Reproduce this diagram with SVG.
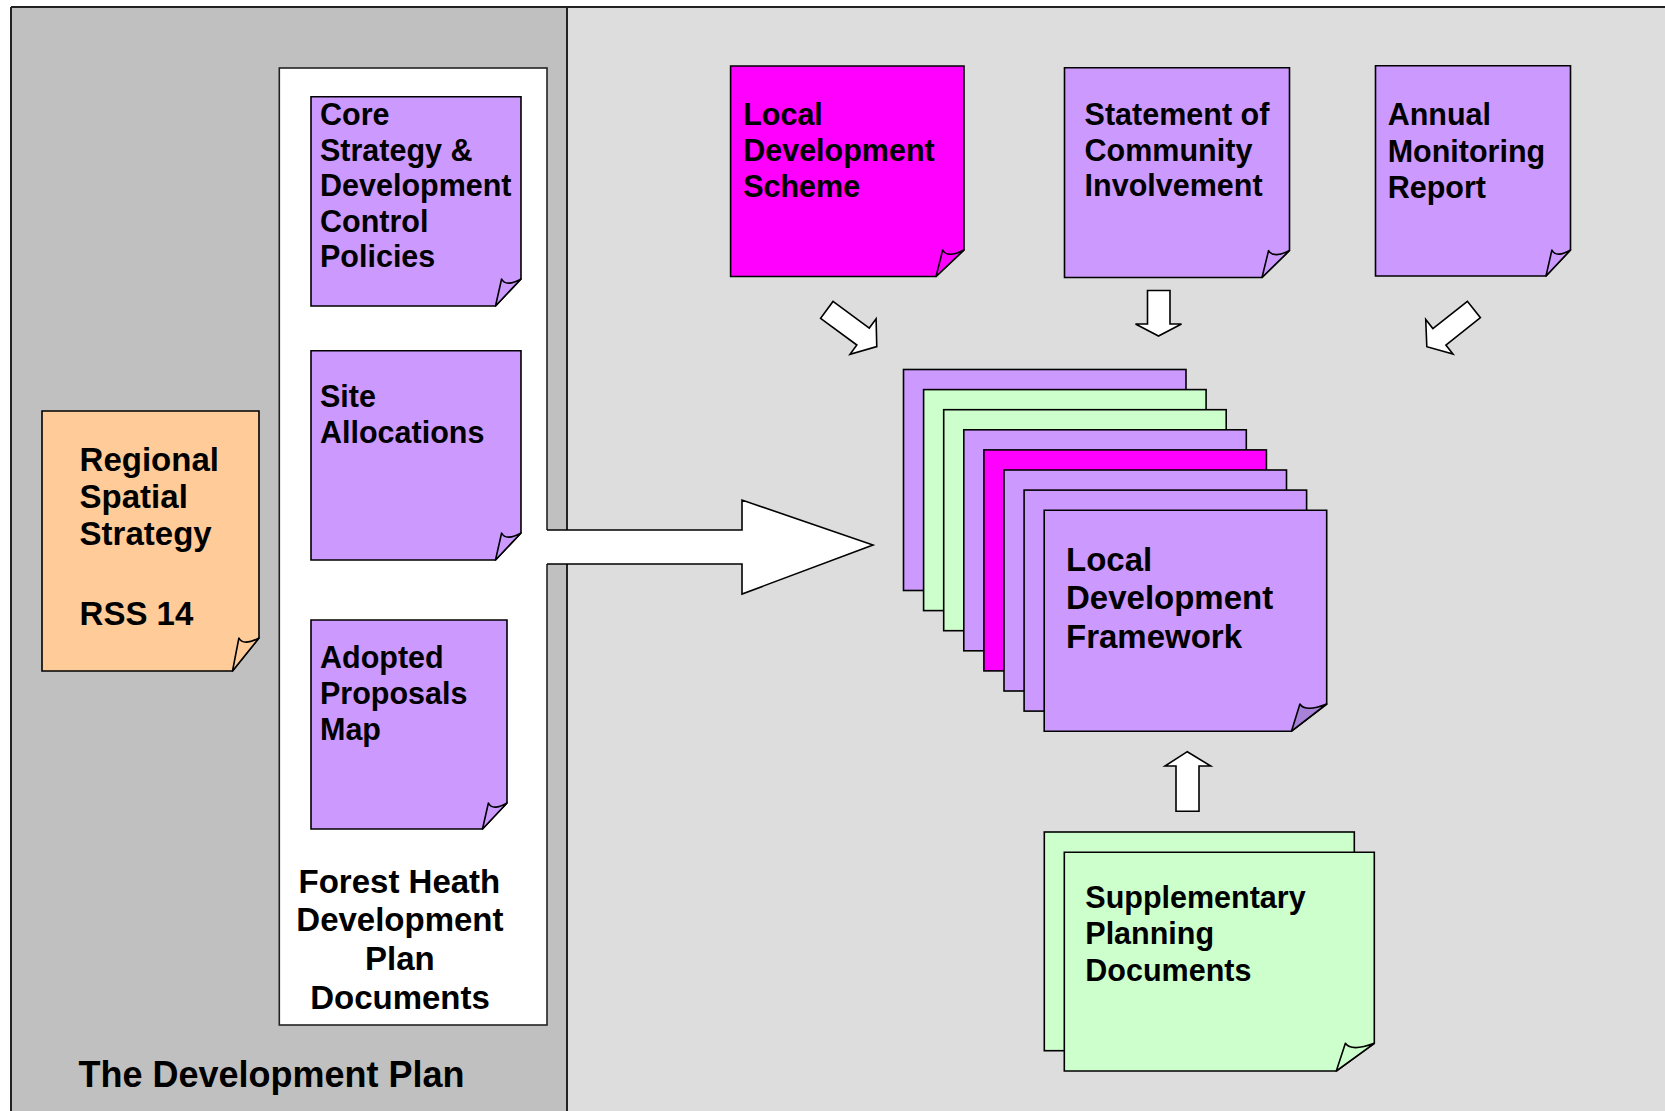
<svg xmlns="http://www.w3.org/2000/svg" width="1665" height="1111" viewBox="0 0 1665 1111">
  <style>
    .frame { stroke: #222; stroke-width: 2; fill: none; }
    .edge { stroke: #000; stroke-width: 1.6; stroke-linejoin: miter; }
    .flap { stroke: #000; stroke-width: 1.6; stroke-linejoin: round; }
    .purple { fill: #CC99FF; }
    .purple-dark { fill: #A882D8; }
    .green { fill: #CCFFCC; }
    .magenta { fill: #FF00FF; }
    .orange { fill: #FFCC99; }
    .arrow { fill: #FFFFFF; stroke: #000; stroke-width: 1.6; stroke-linejoin: miter; }
    .label { font-family: "Liberation Sans", Arial, Helvetica, sans-serif; font-weight: bold; font-size: 30.5px; fill: #000; }
    .big { font-size: 33px; }
    .title { font-size: 36px; }
  </style>

  <!-- page background and the two panels -->
  <g id="panels">
    <rect x="0" y="0" width="1665" height="1111" fill="#FFFFFF"/>
    <rect x="11" y="7" width="556" height="1110" fill="#C0C0C0"/>
    <rect x="567" y="7" width="1100" height="1110" fill="#DDDDDD"/>
    <line class="frame" x1="11" y1="7" x2="1667" y2="7"/>
    <line class="frame" x1="11" y1="7" x2="11" y2="1113"/>
    <line class="frame" x1="567" y1="7" x2="567" y2="1113" stroke-width="1.6"/>
    <text class="label title" x="78.5" y="1086.5">The Development Plan</text>
  </g>

  <!-- container holding the plan documents -->
  <g id="dpd-container">
    <rect x="279.3" y="68" width="267.7" height="957" fill="#FFFFFF" stroke="#222" stroke-width="1.6"/>
    <text class="label big" text-anchor="middle">
      <tspan x="404" y="892.5">Forest Heath</tspan>
      <tspan x="404.5" y="931">Development</tspan>
      <tspan x="404.5" y="969.5">Plan</tspan>
      <tspan x="400" y="1008.5">Documents</tspan>
    </text>
  </g>

  <g id="node-core">
    <path class="purple edge" d="M311,96.7 H521 V279 L495.5,306 H311 Z"/>
    <path class="purple flap" d="M495.5,306 L501.6,279 C504.4,285 512.1,284 521,279 Z"/>
    <text class="label">
      <tspan x="320" y="125">Core</tspan>
      <tspan x="320" y="160.5">Strategy &amp;</tspan>
      <tspan x="320" y="196">Development</tspan>
      <tspan x="320" y="231.5">Control</tspan>
      <tspan x="320" y="267">Policies</tspan>
    </text>
  </g>

  <g id="node-site">
    <path class="purple edge" d="M311,350.7 H521 V533 L495.5,560 H311 Z"/>
    <path class="purple flap" d="M495.5,560 L501.6,533 C504.4,539 512.1,538 521,533 Z"/>
    <text class="label">
      <tspan x="320" y="407">Site</tspan>
      <tspan x="320" y="443">Allocations</tspan>
    </text>
  </g>

  <g id="node-apm">
    <path class="purple edge" d="M311,620 H507 V803 L482.5,829 H311 Z"/>
    <path class="purple flap" d="M482.5,829 L488.4,803 C491.1,809 498.4,808 507,803 Z"/>
    <text class="label">
      <tspan x="320" y="668">Adopted</tspan>
      <tspan x="320" y="704">Proposals</tspan>
      <tspan x="320" y="740">Map</tspan>
    </text>
  </g>

  <g id="node-rss">
    <path class="orange edge" d="M42,411 H259 V638 L232.5,671 H42 Z"/>
    <path class="orange flap" d="M232.5,671 L238.9,638 C241.8,644 249.7,643 259,638 Z"/>
    <text class="label big">
      <tspan x="79.6" y="471">Regional</tspan>
      <tspan x="79.6" y="508">Spatial</tspan>
      <tspan x="79.6" y="544.5">Strategy</tspan>
      <tspan x="79.6" y="625">RSS 14</tspan>
    </text>
  </g>

  <g id="node-lds">
    <path class="magenta edge" d="M730.6,66 H964 V250 L936,276.5 H730.6 Z"/>
    <path class="magenta flap" d="M936,276.5 L942.7,250 C945.8,256 954.2,255 964,250 Z"/>
    <text class="label">
      <tspan x="743.2" y="125">Local</tspan>
      <tspan x="743.2" y="161">Development</tspan>
      <tspan x="743.2" y="197">Scheme</tspan>
    </text>
  </g>

  <g id="node-sci">
    <path class="purple edge" d="M1064.5,67.7 H1289.5 V250.5 L1262,277.5 H1064.5 Z"/>
    <path class="purple flap" d="M1262,277.5 L1268.6,250.5 C1271.6,256.5 1279.9,255.5 1289.5,250.5 Z"/>
    <text class="label">
      <tspan x="1084.6" y="125">Statement of</tspan>
      <tspan x="1084.6" y="160.5">Community</tspan>
      <tspan x="1084.6" y="196">Involvement</tspan>
    </text>
  </g>

  <g id="node-amr">
    <path class="purple edge" d="M1375.5,65.7 H1570.5 V250 L1546,276 H1375.5 Z"/>
    <path class="purple flap" d="M1546,276 L1551.9,250 C1554.6,256 1561.9,255 1570.5,250 Z"/>
    <text class="label">
      <tspan x="1387.7" y="125">Annual</tspan>
      <tspan x="1387.7" y="161.5">Monitoring</tspan>
      <tspan x="1387.7" y="197.5">Report</tspan>
    </text>
  </g>

  <!-- stack of framework documents, back to front -->
  <g id="node-ldf">
    <rect class="purple edge" x="903.5" y="369.5" width="282.5" height="221"/>
    <rect class="green edge" x="923.6" y="389.6" width="282.5" height="221"/>
    <rect class="green edge" x="943.7" y="409.7" width="282.5" height="221"/>
    <rect class="purple edge" x="963.8" y="429.8" width="282.5" height="221"/>
    <rect class="magenta edge" x="983.9" y="449.9" width="282.5" height="221"/>
    <rect class="purple edge" x="1004" y="470" width="282.5" height="221"/>
    <rect class="purple edge" x="1024.1" y="490.1" width="282.5" height="221"/>
    <path class="purple edge" d="M1044.2,510.2 H1326.7 V704 L1291.5,731.2 H1044.2 Z"/>
    <path class="purple-dark flap" d="M1291.5,731.2 L1299.9,704 C1303.8,710 1314.2,709 1326.7,704 Z"/>
    <text class="label big">
      <tspan x="1066" y="570.5">Local</tspan>
      <tspan x="1066" y="609">Development</tspan>
      <tspan x="1066" y="647.5">Framework</tspan>
    </text>
  </g>

  <g id="node-spd">
    <rect class="green edge" x="1044.3" y="832" width="310" height="218.7"/>
    <path class="green edge" d="M1064.3,852.3 H1374.3 V1043.3 L1336.3,1071 H1064.3 Z"/>
    <path class="green flap" d="M1336.3,1071 L1345.4,1043.3 C1349.6,1049.3 1361,1048.3 1374.3,1043.3 Z"/>
    <text class="label">
      <tspan x="1085.3" y="908">Supplementary</tspan>
      <tspan x="1085.3" y="944">Planning</tspan>
      <tspan x="1085.3" y="980.5">Documents</tspan>
    </text>
  </g>

  <!-- block arrows -->
  <g id="connectors">
    <!-- plan documents feed the framework -->
    <polygon points="545,530 742,530 742,500 873,545 742,594 742,564 545,564" fill="#FFFFFF"/>
    <polyline class="arrow" fill="none" points="547,530 742,530 742,500 873,545 742,594 742,564 547,564"/>
    <!-- scheme to framework -->
    <polygon class="arrow" transform="translate(826.8,309.9) rotate(36.3)" points="0,-10.5 45,-10.5 45,-22 62,0 45,22 45,10.5 0,10.5"/>
    <!-- statement of community involvement to framework -->
    <polygon class="arrow" points="1147.5,290.5 1170,290.5 1170,324 1181.5,324 1158.5,336 1135.5,324 1147.5,324"/>
    <!-- monitoring report to framework -->
    <polygon class="arrow" transform="translate(1473.9,309.5) rotate(141.7)" points="0,-10.5 44,-10.5 44,-22 60,0 44,22 44,10.5 0,10.5"/>
    <!-- supplementary documents to framework -->
    <polygon class="arrow" points="1176,811.3 1176,766 1165,766 1187.3,751.7 1210.7,766 1199,766 1199,811.3"/>
  </g>
</svg>
